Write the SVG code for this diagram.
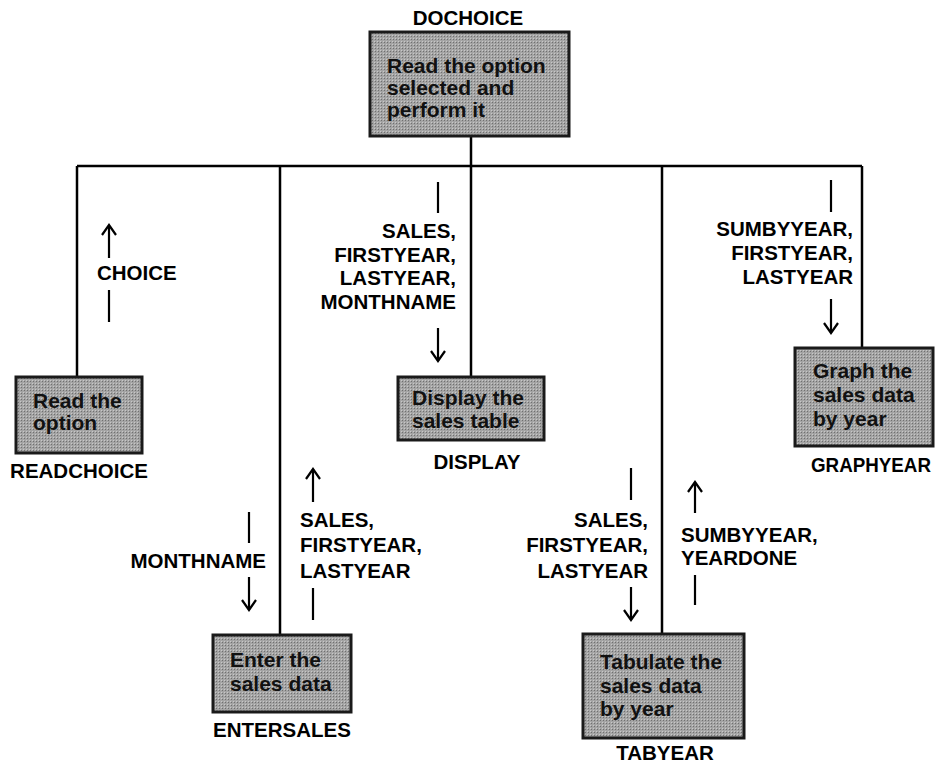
<svg xmlns="http://www.w3.org/2000/svg" width="941" height="766" viewBox="0 0 941 766">
<style>
.bg{fill:#ffffff}
.box{fill:#9e9e9e;stroke:#1a1a1a;stroke-width:3}
.bt{font-family:"Liberation Sans",Arial,sans-serif;font-weight:bold;font-size:21px;fill:#111}
.lbl{font-family:"Liberation Sans",Arial,sans-serif;font-weight:bold;font-size:20.5px;fill:#000}
.c{text-anchor:middle}
.r{text-anchor:end}
.ln{stroke:#000;stroke-width:2.5;fill:none}
.fl{stroke:#000;stroke-width:2.2;fill:none}
</style>
<defs>
<pattern id="ht" width="3" height="3" patternUnits="userSpaceOnUse">
<rect width="3" height="3" fill="#a4a4a4"/>
<rect width="1" height="1" fill="#707070"/>
<rect x="2" y="2" width="1" height="1" fill="#c8c8c8"/>
</pattern>
</defs>
<rect class="bg" width="941" height="766"/>

<g id="connectors">
<line class="ln" x1="77" y1="166" x2="862" y2="166"/>
<line class="ln" x1="471" y1="136" x2="471" y2="377"/>
<line class="ln" x1="77" y1="166" x2="77" y2="377"/>
<line class="ln" x1="280" y1="166" x2="280" y2="635"/>
<line class="ln" x1="662" y1="166" x2="662" y2="634"/>
<line class="ln" x1="862" y1="166" x2="862" y2="348"/>
</g>

<g id="flows">
<line class="fl" x1="109" y1="258" x2="109" y2="226"/>
<path class="fl" d="M102,235 L109,225 L116,235"/>
<line class="fl" x1="109" y1="290" x2="109" y2="322"/>
<text class="lbl" x="97" y="280">CHOICE</text>

<line class="fl" x1="438" y1="182" x2="438" y2="213"/>
<text class="lbl r" x="456" y="238">SALES,</text>
<text class="lbl r" x="456" y="262">FIRSTYEAR,</text>
<text class="lbl r" x="456" y="285">LASTYEAR,</text>
<text class="lbl r" x="456" y="309">MONTHNAME</text>
<line class="fl" x1="438" y1="328" x2="438" y2="361"/>
<path class="fl" d="M431,351 L438,361 L445,351"/>

<line class="fl" x1="831" y1="180" x2="831" y2="212"/>
<text class="lbl r" x="853" y="236">SUMBYYEAR,</text>
<text class="lbl r" x="853" y="260">FIRSTYEAR,</text>
<text class="lbl r" x="853" y="284">LASTYEAR</text>
<line class="fl" x1="831" y1="299" x2="831" y2="333"/>
<path class="fl" d="M824,323 L831,333 L838,323"/>

<line class="fl" x1="249" y1="512" x2="249" y2="543"/>
<text class="lbl r" x="266" y="568">MONTHNAME</text>
<line class="fl" x1="249" y1="577" x2="249" y2="610"/>
<path class="fl" d="M242,600 L249,610 L256,600"/>

<line class="fl" x1="313" y1="502" x2="313" y2="469"/>
<path class="fl" d="M306,479 L313,469 L320,479"/>
<text class="lbl" x="300" y="527">SALES,</text>
<text class="lbl" x="300" y="552">FIRSTYEAR,</text>
<text class="lbl" x="300" y="578">LASTYEAR</text>
<line class="fl" x1="313" y1="588" x2="313" y2="620"/>

<line class="fl" x1="631" y1="468" x2="631" y2="500"/>
<text class="lbl r" x="648" y="527">SALES,</text>
<text class="lbl r" x="648" y="552">FIRSTYEAR,</text>
<text class="lbl r" x="648" y="578">LASTYEAR</text>
<line class="fl" x1="631" y1="587" x2="631" y2="620"/>
<path class="fl" d="M624,610 L631,620 L638,610"/>

<line class="fl" x1="695" y1="513" x2="695" y2="482"/>
<path class="fl" d="M688,492 L695,482 L702,492"/>
<text class="lbl" x="681" y="542">SUMBYYEAR,</text>
<text class="lbl" x="681" y="565">YEARDONE</text>
<line class="fl" x1="695" y1="575" x2="695" y2="605"/>
</g>

<g id="DOCHOICE">
<text class="lbl c" x="468" y="25">DOCHOICE</text>
<rect class="box" x="370" y="32" width="199" height="104" style="fill:url(#ht)"/>
<text class="bt" x="387" y="73">Read the option</text>
<text class="bt" x="387" y="95">selected and</text>
<text class="bt" x="387" y="117">perform it</text>
</g>

<g id="READCHOICE">
<rect class="box" x="16" y="377" width="126" height="76" style="fill:url(#ht)"/>
<text class="bt" x="33" y="408">Read the</text>
<text class="bt" x="33" y="430">option</text>
<text class="lbl c" x="79" y="478">READCHOICE</text>
</g>

<g id="DISPLAY">
<rect class="box" x="398" y="377" width="146" height="63" style="fill:url(#ht)"/>
<text class="bt" x="412" y="405">Display the</text>
<text class="bt" x="412" y="428">sales table</text>
<text class="lbl c" x="477" y="469">DISPLAY</text>
</g>

<g id="ENTERSALES">
<rect class="box" x="213" y="635" width="138" height="77" style="fill:url(#ht)"/>
<text class="bt" x="230" y="667">Enter the</text>
<text class="bt" x="230" y="691">sales data</text>
<text class="lbl c" x="282" y="737">ENTERSALES</text>
</g>

<g id="TABYEAR">
<rect class="box" x="583" y="634" width="161" height="104" style="fill:url(#ht)"/>
<text class="bt" x="600" y="669">Tabulate the</text>
<text class="bt" x="600" y="693">sales data</text>
<text class="bt" x="600" y="716">by year</text>
<text class="lbl c" x="665" y="760">TABYEAR</text>
</g>

<g id="GRAPHYEAR">
<rect class="box" x="795" y="348" width="138" height="98" style="fill:url(#ht)"/>
<text class="bt" x="813" y="378">Graph the</text>
<text class="bt" x="813" y="402">sales data</text>
<text class="bt" x="813" y="426">by year</text>
<text class="lbl c" x="871" y="472" textLength="120" lengthAdjust="spacingAndGlyphs">GRAPHYEAR</text>
</g>
</svg>
